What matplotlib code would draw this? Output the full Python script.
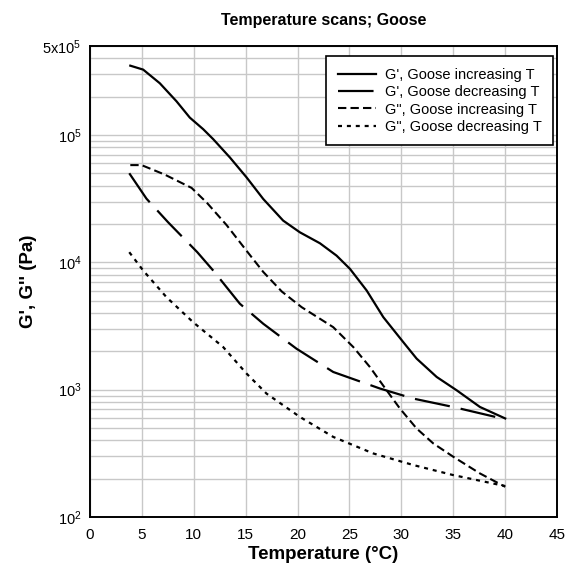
import matplotlib
matplotlib.use("Agg")
import matplotlib.pyplot as plt
from matplotlib.ticker import FixedLocator, LogLocator, NullFormatter, FixedFormatter
import numpy as np

plt.rcParams["font.family"] = ["Liberation Sans", "DejaVu Sans"]
plt.rcParams["mathtext.default"] = "regular"

# ── Data (log10 of modulus in Pa) ─────────────────────────────────────────────
t_gp_up = [3.9, 5.14, 6.74, 8.35, 9.63, 10.92, 11.88, 13.49, 15.1, 16.7, 18.62, 20.23,
           22.16, 23.76, 25.05, 26.66, 28.26, 30.18, 31.47, 33.4, 35.33, 37.57, 40.0]
log_gp_up = [5.545, 5.514, 5.407, 5.265, 5.137, 5.046, 4.968, 4.824, 4.667, 4.498, 4.328, 4.236,
             4.15, 4.053, 3.949, 3.779, 3.57, 3.374, 3.244, 3.10, 2.995, 2.864, 2.774]

t_gp_down = [3.8, 5.46, 7.55, 10.35, 11.88, 14.45, 16.7, 19.9, 23.44, 27.94, 31.15, 35.0, 40.0]
log_gp_down = [4.70, 4.50, 4.314, 4.08, 3.936, 3.675, 3.518, 3.322, 3.139, 3.009, 2.93, 2.864, 2.768]

t_gpp_up = [3.9, 4.98, 7.2, 9.8, 11.3, 13.17, 15.2, 16.7, 18.5, 20.4, 23.44, 25.37,
            26.97, 28.58, 29.86, 31.47, 33.07, 35.0, 37.57, 40.0]
log_gpp_up = [4.764, 4.764, 4.69, 4.585, 4.466, 4.293, 4.08, 3.925, 3.77, 3.648, 3.491, 3.335,
              3.178, 2.995, 2.852, 2.695, 2.578, 2.473, 2.342, 2.237]

t_gpp_down = [3.8, 5.14, 7.39, 9.95, 12.84, 15.1, 17.02, 20.23, 23.44, 27.3, 31.15, 35.0, 40.0]
log_gpp_down = [4.08, 3.936, 3.726, 3.53, 3.335, 3.126, 2.969, 2.786, 2.629, 2.499, 2.408, 2.329, 2.243]

y_ticks = [1e2, 1e3, 1e4, 1e5, 5e5]
y_ticklabels = ["$10^{2}$", "$10^{3}$", "$10^{4}$", "$10^{5}$", "$5x10^{5}$"]

# ── Chart ─────────────────────────────────────────────────────────────────────
fig = plt.figure(figsize=(5.72, 5.66), dpi=100)
ax = fig.add_axes([0.157, 0.0866, 0.817, 0.832])

ax.plot(t_gp_up, np.power(10, log_gp_up), color="black", lw=1.6,
        label="G', Goose increasing T")
ax.plot(t_gp_down, np.power(10, log_gp_down), color="black", lw=1.6,
        dashes=(16, 5), label="G', Goose decreasing T")
ax.plot(t_gpp_up, np.power(10, log_gpp_up), color="black", lw=1.5,
        dashes=(4, 2), label="G\", Goose increasing T")
ax.plot(t_gpp_down, np.power(10, log_gpp_down), color="black", lw=1.6,
        dashes=(1.8, 2.2), label="G\", Goose decreasing T")

ax.set_yscale("log")
ax.set_xlim(0, 45)
ax.set_ylim(1e2, 5e5)
ax.set_xticks(range(0, 46, 5))
ax.yaxis.set_major_locator(FixedLocator(y_ticks))
ax.yaxis.set_major_formatter(FixedFormatter(y_ticklabels))
ax.yaxis.set_minor_locator(LogLocator(base=10, subs=np.arange(2, 10)))
ax.yaxis.set_minor_formatter(NullFormatter())

ax.grid(True, which="both", color="#c8c8c8", lw=1.0)
ax.set_axisbelow(True)
ax.tick_params(which="both", length=0, labelsize=11, pad=8)
ax.tick_params(axis="y", labelsize=10.5, pad=6)
for sp in ax.spines.values():
    sp.set_linewidth(1.4)

ax.set_title("Temperature scans; Goose", fontsize=11.5, fontweight="bold", pad=15)
ax.set_xlabel("Temperature (\u00b0C)", fontsize=13.5, fontweight="bold", labelpad=3)
ax.set_ylabel("G', G'' (Pa)", fontsize=13.5, fontweight="bold", labelpad=4)

leg = ax.legend(loc="upper right", bbox_to_anchor=(0.9914, 0.978), borderaxespad=0,
                fontsize=10.5, fancybox=False, framealpha=1, edgecolor="black",
                handlelength=2.6, handletextpad=0.6, borderpad=0.8, labelspacing=0.22)
leg.get_frame().set_linewidth(1.2)

plt.savefig("out.png", dpi=100)
plt.close()
